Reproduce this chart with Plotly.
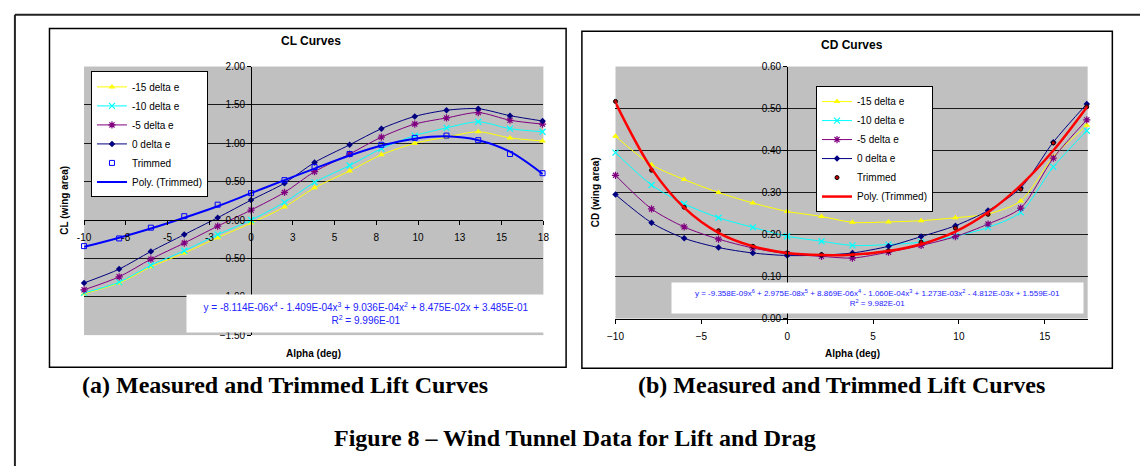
import plotly.graph_objects as go

# ---------------- data ----------------
alpha = [-10.0, -7.9, -6.0, -4.0, -2.0, 0.0, 2.0, 3.8, 5.9, 7.8, 9.8, 11.7, 13.6, 15.5, 17.45]

cl_m15 = [-0.96, -0.82, -0.61, -0.43, -0.23, -0.04, 0.17, 0.42, 0.64, 0.85, 1.00, 1.08, 1.15, 1.07, 1.03]
cl_m10 = [-0.95, -0.81, -0.59, -0.40, -0.19, 0.00, 0.23, 0.49, 0.71, 0.93, 1.10, 1.20, 1.28, 1.19, 1.15]
cl_m5 = [-0.91, -0.74, -0.51, -0.30, -0.08, 0.13, 0.36, 0.63, 0.86, 1.08, 1.25, 1.33, 1.40, 1.30, 1.25]
cl_0 = [-0.82, -0.64, -0.41, -0.19, 0.03, 0.26, 0.48, 0.75, 0.98, 1.19, 1.35, 1.43, 1.45, 1.36, 1.29]
cl_trim = [-0.34, -0.24, -0.10, 0.05, 0.20, 0.35, 0.52, 0.69, 0.86, 0.98, 1.07, 1.10, 1.04, 0.86, 0.61]
cl_poly = [-0.35, -0.23, -0.11, 0.03, 0.18, 0.35, 0.52, 0.67, 0.84, 0.97, 1.06, 1.09, 1.04, 0.89, 0.60]

cd_m15 = [0.434, 0.366, 0.331, 0.300, 0.275, 0.255, 0.243, 0.229, 0.230, 0.233, 0.240, 0.249, 0.280, 0.385, 0.460]
cd_m10 = [0.395, 0.318, 0.273, 0.240, 0.217, 0.196, 0.184, 0.174, 0.176, 0.182, 0.196, 0.217, 0.253, 0.361, 0.447]
cd_m5 = [0.341, 0.261, 0.218, 0.189, 0.168, 0.154, 0.148, 0.144, 0.158, 0.174, 0.195, 0.225, 0.263, 0.382, 0.473]
cd_0 = [0.295, 0.228, 0.191, 0.169, 0.156, 0.150, 0.151, 0.156, 0.172, 0.195, 0.221, 0.257, 0.311, 0.420, 0.511]
cd_trim = [0.517, 0.353, 0.265, 0.209, 0.172, 0.156, 0.152, 0.152, 0.161, 0.182, 0.215, 0.248, 0.308, 0.418, 0.504]
cd_poly = [0.514, 0.357, 0.264, 0.204, 0.172, 0.156, 0.151, 0.152, 0.161, 0.177, 0.207, 0.253, 0.317, 0.400, 0.503]

series_names = ["-15 delta e", "-10 delta e", "-5 delta e", "0 delta e", "Trimmed", "Poly. (Trimmed)"]

cl_xtickvals = [-10, -7.5, -5, -2.5, 0, 2.5, 5, 7.5, 10, 12.5, 15, 17.5]
cl_xticktext = ["-10", "-8", "-5", "-3", "0", "3", "5", "8", "10", "13", "15", "18"]
cd_xtickvals = [-10, -5, 0, 5, 10, 15]

cl_equation = ("y = -8.114E-06x<sup>4</sup> - 1.409E-04x<sup>3</sup> + 9.036E-04x<sup>2</sup>"
               " + 8.475E-02x + 3.485E-01<br>R<sup>2</sup> = 9.996E-01")
cd_equation = ("y = -9.358E-09x<sup>6</sup> + 2.975E-08x<sup>5</sup> + 8.869E-06x<sup>4</sup>"
               " - 1.060E-04x<sup>3</sup> + 1.273E-03x<sup>2</sup> - 4.812E-03x + 1.559E-01"
               "<br>R<sup>2</sup> = 9.982E-01")

# ---------------- geometry helpers ----------------
W, H = 1146, 472
def px(x):
    return x / W
def py(y):
    return 1 - y / H

SANS = "Arial, Liberation Sans, Arimo, sans-serif"
SERIF = "Times New Roman, Liberation Serif, serif"

fig = go.Figure()

def add_series(xa, ya, legend, vals_list, trim_marker, poly_color, poly_width):
    styles = [
        dict(color="#FFFF00", symbol="triangle-up", size=6, line=dict(width=0)),
        dict(color="#00FFFF", symbol="x-thin", size=6, line=dict(width=1.2, color="#00FFFF")),
        dict(color="#800080", symbol="asterisk", size=6, line=dict(width=1.2, color="#800080")),
        dict(color="#000080", symbol="diamond", size=5, line=dict(width=0)),
    ]
    for i in range(4):
        fig.add_trace(go.Scatter(
            x=alpha, y=vals_list[i], name=series_names[i], mode="lines+markers",
            line=dict(color=styles[i]["color"], width=1, shape="spline", smoothing=0.8),
            marker=styles[i], xaxis=xa, yaxis=ya, legend=legend, cliponaxis=False))
    fig.add_trace(go.Scatter(
        x=alpha, y=vals_list[4], name=series_names[4], mode="markers",
        marker=trim_marker, xaxis=xa, yaxis=ya, legend=legend, cliponaxis=False))
    fig.add_trace(go.Scatter(
        x=alpha, y=vals_list[5], name=series_names[5], mode="lines",
        line=dict(color=poly_color, width=poly_width, shape="spline", smoothing=1.0),
        xaxis=xa, yaxis=ya, legend=legend, cliponaxis=False))

add_series("x", "y", "legend", [cl_m15, cl_m10, cl_m5, cl_0, cl_trim, cl_poly],
           dict(symbol="square-open", size=5, color="#0000FF", line=dict(width=1, color="#0000FF")),
           "#0000FF", 2)
add_series("x2", "y2", "legend2", [cd_m15, cd_m10, cd_m5, cd_0, cd_trim, cd_poly],
           dict(symbol="circle", size=4, color="#C00000", line=dict(width=1, color="#000000")),
           "#FF0000", 2.5)

tickfont = dict(family=SANS, size=10, color="#000000")
axis_common = dict(ticks="outside", ticklen=4, tickcolor="#000000", tickwidth=1,
                   showline=True, linecolor="#000000", linewidth=1, zeroline=False,
                   tickfont=tickfont)

fig.update_layout(
    xaxis=dict(domain=[px(77), px(542)], range=[-10, 17.5], anchor="free",
               position=py(63 + 2.0 / 3.5 * 275), tickmode="array", ticklabelstandoff=4,
               tickvals=cl_xtickvals, ticktext=cl_xticktext, showgrid=False, **axis_common),
    yaxis=dict(domain=[py(338), py(63)], range=[-1.5, 2.0], dtick=0.5, tick0=0,
               tickformat=".2f", anchor="free", position=px(77 + 10 / 27.5 * 465),
               showgrid=True, gridcolor="#1a1a1a", gridwidth=1, **axis_common),
    xaxis2=dict(domain=[px(615), px(1093)], range=[-10, 17.5], anchor="y2", ticklabelstandoff=4,
                tickmode="array", tickvals=cd_xtickvals, showgrid=False, **axis_common),
    yaxis2=dict(domain=[py(321), py(63)], range=[0, 0.6], dtick=0.1, tick0=0,
                tickformat=".2f", anchor="free", position=px(615 + 10 / 27.5 * 478),
                showgrid=True, gridcolor="#1a1a1a", gridwidth=1, **axis_common),
)

legend_common = dict(bgcolor="#FFFFFF", bordercolor="#000000", borderwidth=1,
                     font=dict(family=SANS, size=10, color="#000000"),
                     xanchor="left", yanchor="top", tracegroupgap=0, itemwidth=30)
fig.update_layout(
    legend=dict(x=px(84), y=py(68), **legend_common),
    legend2=dict(x=px(818), y=py(83), **legend_common),
)

bold = dict(family=SANS, color="#000000", weight="bold")
ann = []
ann.append(dict(text="CL Curves", x=px(307), y=py(37), font=dict(size=12, **bold)))
ann.append(dict(text="CD Curves", x=px(854), y=py(41), font=dict(size=12, **bold)))
ann.append(dict(text="CL (wing area)", x=px(57), y=py(200), textangle=-90, font=dict(size=10, **bold)))
ann.append(dict(text="CD (wing area)", x=px(595), y=py(192), textangle=-90, font=dict(size=10, **bold)))
ann.append(dict(text="Alpha (deg)", x=px(309), y=py(357), font=dict(size=10, **bold)))
ann.append(dict(text="Alpha (deg)", x=px(855), y=py(357), font=dict(size=10, **bold)))
ann.append(dict(text=cl_equation, x=px(362), y=py(315.5), width=358, height=37,
                bgcolor="#FFFFFF", borderpad=0, align="center",
                font=dict(family=SANS, size=10, color="#2222FF")))
ann.append(dict(text=cd_equation, x=px(880), y=py(300), width=411, height=30,
                bgcolor="#FFFFFF", borderpad=0, align="center",
                font=dict(family=SANS, size=8, color="#2222FF")))
cap = dict(family=SERIF, size=24, color="#000000", weight="bold")
ann.append(dict(text="(a) Measured and Trimmed Lift Curves", x=px(280), y=py(389), font=cap))
ann.append(dict(text="(b) Measured and Trimmed Lift Curves", x=px(844), y=py(389), font=cap))
ann.append(dict(text="Figure 8 \u2013 Wind Tunnel Data for Lift and Drag", x=px(574), y=py(443), font=cap))
for a in ann:
    a.update(xref="paper", yref="paper", showarrow=False, xanchor="center", yanchor="middle")
fig.update_layout(annotations=ann)

shapes = [
    dict(type="line", x0=px(7), x1=1.0, y0=py(10), y1=py(10), line=dict(color="#222222", width=2)),
    dict(type="line", x0=px(7), x1=px(7), y0=py(10), y1=0.0, line=dict(color="#222222", width=2)),
    dict(type="rect", x0=px(42), x1=px(565), y0=py(24), y1=py(371), line=dict(color="#000000", width=1.5)),
    dict(type="rect", x0=px(581), x1=px(1118), y0=py(27), y1=py(372), line=dict(color="#000000", width=1.5)),
]
for s in shapes:
    s.update(xref="paper", yref="paper", layer="below")
fig.update_layout(shapes=shapes)

fig.update_layout(width=W, height=H, margin=dict(l=0, r=0, t=0, b=0),
                  paper_bgcolor="#FFFFFF", plot_bgcolor="#C0C0C0", showlegend=True)

fig.write_html("out.html", config={"displayModeBar": False},
               post_script="document.body.style.margin='0';document.body.style.padding='0';"
                           "document.body.style.overflow='hidden';"
                           "document.documentElement.style.overflow='hidden';")
